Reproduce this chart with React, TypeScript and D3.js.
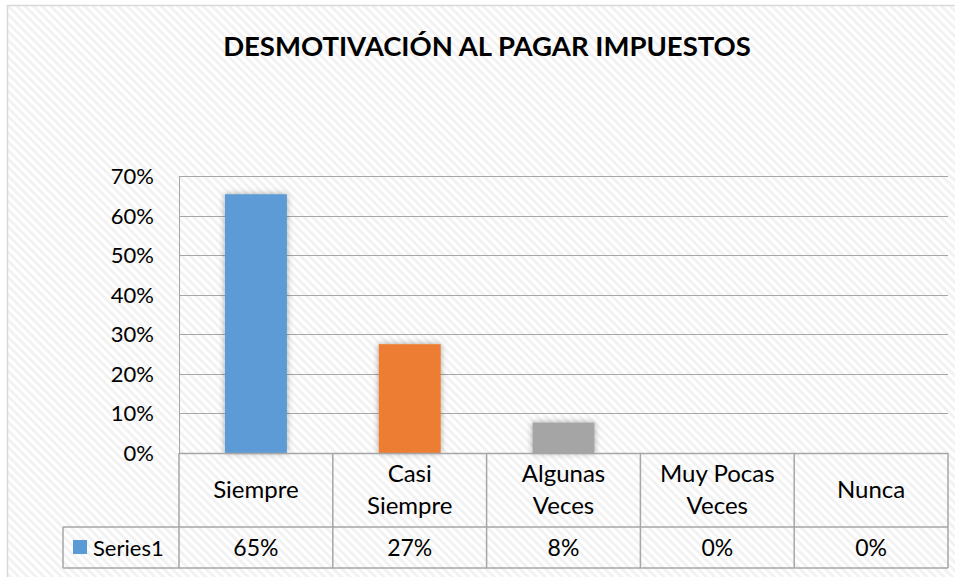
import React, { useRef, useEffect } from 'react';
import * as d3 from 'd3';

const categories = ['Siempre', 'Casi Siempre', 'Algunas Veces', 'Muy Pocas Veces', 'Nunca'];
const categoryLines = [['Siempre'], ['Casi', 'Siempre'], ['Algunas', 'Veces'], ['Muy Pocas', 'Veces'], ['Nunca']];
const values = [0.654, 0.275, 0.077, 0, 0];
const tableLabels = ['65%', '27%', '8%', '0%', '0%'];
const colors = ['#5b9bd5', '#ed7d31', '#a5a5a5', '#ffc000', '#4472c4'];
const yTicks = [0, 0.1, 0.2, 0.3, 0.4, 0.5, 0.6, 0.7];
const seriesName = 'Series1';
const title = 'DESMOTIVACIÓN AL PAGAR IMPUESTOS';

const App: React.FC = () => {
  const svgRef = useRef<SVGSVGElement>(null);

  useEffect(() => {
    const svg = d3.select(svgRef.current);
    const width = 955;
    const height = 577;
    const font = 'Lato, "Open Sans", sans-serif';
    const left = 179;
    const right = 948;
    const top = 176;
    const bottom = 453;
    const catRowBottom = 527;
    const dataRowBottom = 568;
    const legendLeft = 63;
    const lineColor = '#a6a6a6';

    svg.selectAll('*').remove();
    svg.attr('width', width).attr('height', height);

    const defs = svg.append('defs');
    const pat = defs
      .append('pattern')
      .attr('id', 'hatch')
      .attr('width', 6)
      .attr('height', 6)
      .attr('patternUnits', 'userSpaceOnUse')
      .attr('patternTransform', 'rotate(-45)');
    pat.append('rect').attr('width', 6).attr('height', 6).attr('fill', '#ffffff');
    pat.append('rect').attr('width', 3).attr('height', 6).attr('fill', '#f2f2f2');

    const shadow = defs.append('filter').attr('id', 'shadow').attr('x', '-30%').attr('y', '-30%').attr('width', '160%').attr('height', '160%');
    shadow.append('feGaussianBlur').attr('in', 'SourceAlpha').attr('stdDeviation', 3).attr('result', 'blur');
    shadow.append('feComponentTransfer').attr('in', 'blur').attr('result', 'soft')
      .append('feFuncA').attr('type', 'linear').attr('slope', 0.35);
    const merge = shadow.append('feMerge');
    merge.append('feMergeNode').attr('in', 'soft');
    merge.append('feMergeNode').attr('in', 'SourceGraphic');

    // background + outer border
    svg.append('rect').attr('x', 0).attr('y', 0).attr('width', width).attr('height', height).attr('fill', '#ffffff');
    svg.append('rect')
      .attr('x', 7.5).attr('y', 5.5).attr('width', width).attr('height', height)
      .attr('fill', 'url(#hatch)').attr('stroke', '#d9d9d9').attr('stroke-width', 1.5);

    svg.append('text')
      .attr('x', 487).attr('y', 56)
      .attr('text-anchor', 'middle')
      .attr('font-family', font).attr('font-weight', 'bold').attr('font-size', 27.5)
      .attr('fill', '#000')
      .text(title);

    const x = d3.scaleBand<string>().domain(categories).range([left, right]).paddingInner(0).paddingOuter(0);
    const y = d3.scaleLinear().domain([0, 0.7]).range([bottom, top]);

    // gridlines
    svg.append('g')
      .selectAll('line')
      .data(yTicks)
      .enter()
      .append('line')
      .attr('x1', left).attr('x2', right)
      .attr('y1', (d) => Math.round(y(d)) + 0.5).attr('y2', (d) => Math.round(y(d)) + 0.5)
      .attr('stroke', lineColor).attr('stroke-width', 1);

    svg.append('line')
      .attr('x1', left + 0.5).attr('x2', left + 0.5).attr('y1', top).attr('y2', bottom)
      .attr('stroke', lineColor);

    svg.append('g')
      .selectAll('text')
      .data(yTicks)
      .enter()
      .append('text')
      .attr('x', 154).attr('y', (d) => y(d) + 8)
      .attr('text-anchor', 'end')
      .attr('font-family', font).attr('font-size', 22).attr('fill', '#000')
      .text((d) => d3.format('.0%')(d));

    // bars
    const barW = 62;
    const barData = categories.map((c, i) => ({ c, v: values[i], color: colors[i] })).filter((d) => d.v > 0);
    svg.append('g')
      .selectAll('rect')
      .data(barData)
      .enter()
      .append('rect')
      .attr('x', (d) => (x(d.c) as number) + x.bandwidth() / 2 - barW / 2)
      .attr('y', (d) => y(d.v))
      .attr('width', barW)
      .attr('height', (d) => bottom - y(d.v))
      .attr('fill', (d) => d.color)
      .attr('filter', 'url(#shadow)');

    // data table
    const tg = svg.append('g').attr('stroke', lineColor).attr('stroke-width', 1.5).attr('fill', 'none');
    tg.append('line').attr('x1', left).attr('x2', right).attr('y1', bottom + 0.5).attr('y2', bottom + 0.5);
    tg.append('line').attr('x1', legendLeft).attr('x2', right).attr('y1', catRowBottom).attr('y2', catRowBottom);
    tg.append('line').attr('x1', legendLeft).attr('x2', right).attr('y1', dataRowBottom).attr('y2', dataRowBottom);
    tg.append('line').attr('x1', legendLeft).attr('x2', legendLeft).attr('y1', catRowBottom).attr('y2', dataRowBottom);
    const edges = categories.map((c) => x(c) as number).concat([right]);
    tg.selectAll('line.v')
      .data(edges)
      .enter()
      .append('line')
      .attr('class', 'v')
      .attr('x1', (d) => d).attr('x2', (d) => d)
      .attr('y1', bottom).attr('y2', dataRowBottom);

    const catG = svg.append('g').attr('font-family', font).attr('font-size', 24).attr('fill', '#000').attr('text-anchor', 'middle');
    categoryLines.forEach((lines, i) => {
      const cx = (x(categories[i]) as number) + x.bandwidth() / 2;
      const mid = (bottom + catRowBottom) / 2;
      const lh = 32;
      lines.forEach((ln, j) => {
        catG.append('text')
          .attr('x', cx)
          .attr('y', mid + 8 + (j - (lines.length - 1) / 2) * lh)
          .text(ln);
      });
    });

    catG.selectAll('text.val')
      .data(tableLabels)
      .enter()
      .append('text')
      .attr('class', 'val')
      .attr('font-size', 23)
      .attr('x', (_d, i) => (x(categories[i]) as number) + x.bandwidth() / 2)
      .attr('y', (catRowBottom + dataRowBottom) / 2 + 8)
      .text((d) => d);

    svg.append('rect')
      .attr('x', 73).attr('y', 540).attr('width', 14).attr('height', 14)
      .attr('fill', colors[0]);
    svg.append('text')
      .attr('x', 93).attr('y', (catRowBottom + dataRowBottom) / 2 + 8)
      .attr('font-family', font).attr('font-size', 22).attr('fill', '#000')
      .text(seriesName);
  }, []);

  return <svg ref={svgRef} style={{ position: 'absolute', left: 0, top: 0 }} />;
};

export default App;
